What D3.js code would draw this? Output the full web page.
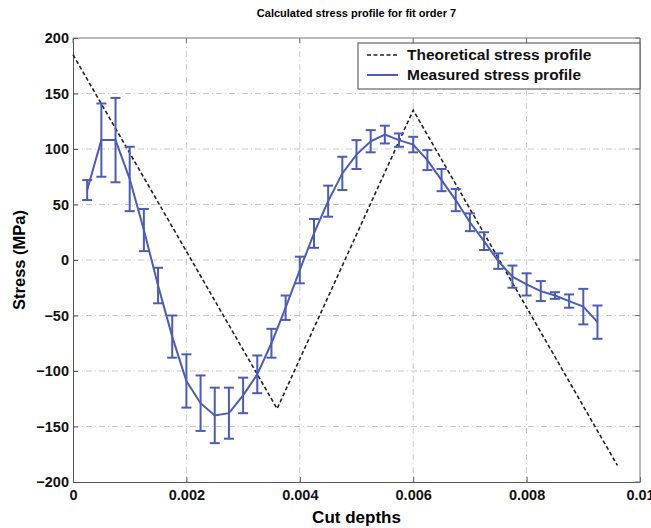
<!DOCTYPE html>
<meta charset="utf-8">
<style>
html,body{margin:0;background:#fff;}
text{font-family:"Liberation Sans",Arial,sans-serif;}
.grid line{stroke:#c8c8c8;stroke-width:1px;stroke-dasharray:6,3,1,3;}
.tick text{font-size:14.5px;font-weight:bold;fill:#111;}
</style>
<script src="https://d3js.org/d3.v7.min.js"></script>
<body>
<script>
// theoretical profile (piecewise linear)
var theoX = [0, 0.0036, 0.006, 0.0096];
var theoY = [185, -134, 135, -185];

// measured profile with error bars
var measX = [0.00025,0.0005,0.00075,0.001,0.00125,0.0015,0.00175,0.002,0.00225,0.0025,
             0.00275,0.003,0.00325,0.0035,0.00375,0.004,0.00425,0.0045,0.00475,0.005,
             0.00525,0.0055,0.00575,0.006,0.00625,0.0065,0.00675,0.007,0.00725,0.0075,
             0.00775,0.008,0.00825,0.0085,0.00875,0.009,0.00925];
var measY = [63,108,108,73,27,-23,-69,-109,-129,-140,
             -138,-122,-103,-75,-43,-9,24,53,78,95,
             107,113,108,104,90,72,54,34,17,-1,
             -15,-22,-28,-32,-37,-42,-56];
var measErr = [9,33,38,29,19,16,19,24,25,25,
               23,16,17,13,11,12,13,14,15,13,
               10,8,6,7,9,10,10,8,8,7,
               10,10,9,3,6,16,15];

var xTicks = [0, 0.002, 0.004, 0.006, 0.008, 0.01];
var xTickLabels = ["0", "0.002", "0.004", "0.006", "0.008", "0.01"];
var yTicks = [-200, -150, -100, -50, 0, 50, 100, 150, 200];
var legendLabels = ["Theoretical stress profile", "Measured stress profile"];

var width = 651, height = 528;
var margin = {left: 73, right: 11, top: 38, bottom: 46};
var blue = "#4a5cb8";

var svg = d3.select("body").append("svg")
    .attr("width", width)
    .attr("height", height);

var x = d3.scaleLinear().domain([0, 0.01]).range([margin.left, width - margin.right]);
var y = d3.scaleLinear().domain([-200, 200]).range([height - margin.bottom, margin.top]);

// grid
svg.append("g").attr("class", "grid")
  .selectAll("line").data(xTicks.slice(1, -1)).enter().append("line")
    .attr("x1", d => x(d)).attr("x2", d => x(d))
    .attr("y1", y(200)).attr("y2", y(-200));
svg.append("g").attr("class", "grid")
  .selectAll("line").data(yTicks.slice(1, -1)).enter().append("line")
    .attr("x1", x(0)).attr("x2", x(0.01))
    .attr("y1", d => y(d)).attr("y2", d => y(d));

// axes
svg.append("g")
    .attr("transform", "translate(0," + y(-200) + ")")
    .call(d3.axisBottom(x).tickValues(xTicks).tickSizeInner(-5).tickSizeOuter(0).tickPadding(8)
      .tickFormat((d, i) => xTickLabels[i]));
svg.append("g")
    .attr("transform", "translate(" + x(0) + ",0)")
    .call(d3.axisLeft(y).tickValues(yTicks).tickSizeInner(-5).tickSizeOuter(0).tickPadding(4));
svg.selectAll(".domain").attr("stroke", "#555");
svg.selectAll(".tick line").attr("stroke", "#555");

// top/right box
svg.append("line").attr("x1", x(0)).attr("x2", x(0.01)).attr("y1", y(200)).attr("y2", y(200)).attr("stroke", "#777");
svg.append("line").attr("x1", x(0.01)).attr("x2", x(0.01)).attr("y1", y(200)).attr("y2", y(-200)).attr("stroke", "#777");
svg.append("g").selectAll("line").data(xTicks).enter().append("line")
    .attr("x1", d => x(d)).attr("x2", d => x(d)).attr("y1", y(200)).attr("y2", y(200) + 5).attr("stroke", "#777");
svg.append("g").selectAll("line").data(yTicks).enter().append("line")
    .attr("x1", x(0.01)).attr("x2", x(0.01) - 5).attr("y1", d => y(d)).attr("y2", d => y(d)).attr("stroke", "#777");

// theoretical line
var theo = theoX.map((d, i) => [d, theoY[i]]);
svg.append("path")
    .datum(theo)
    .attr("fill", "none")
    .attr("stroke", "#222")
    .attr("stroke-width", 1.6)
    .attr("stroke-dasharray", "4,2.5")
    .attr("d", d3.line().x(d => x(d[0])).y(d => y(d[1])));

// measured line + error bars
var meas = measX.map((d, i) => ({x: d, y: measY[i], e: measErr[i]}));
svg.append("path")
    .datum(meas)
    .attr("fill", "none")
    .attr("stroke", blue)
    .attr("stroke-width", 2)
    .attr("d", d3.line().x(d => x(d.x)).y(d => y(d.y)));

var eb = svg.append("g").attr("stroke", blue).attr("stroke-width", 2)
  .selectAll("g").data(meas).enter().append("g");
eb.append("line")
    .attr("x1", d => x(d.x)).attr("x2", d => x(d.x))
    .attr("y1", d => y(d.y - d.e)).attr("y2", d => y(d.y + d.e));
eb.append("line")
    .attr("x1", d => x(d.x) - 5).attr("x2", d => x(d.x) + 5)
    .attr("y1", d => y(d.y + d.e)).attr("y2", d => y(d.y + d.e));
eb.append("line")
    .attr("x1", d => x(d.x) - 5).attr("x2", d => x(d.x) + 5)
    .attr("y1", d => y(d.y - d.e)).attr("y2", d => y(d.y - d.e));

// legend
var lg = svg.append("g").attr("transform", "translate(358,43)");
lg.append("rect").attr("width", 282).attr("height", 46)
    .attr("fill", "#fff").attr("stroke", "#444").attr("stroke-width", 1);
lg.append("line").attr("x1", 9).attr("x2", 40).attr("y1", 12).attr("y2", 12)
    .attr("stroke", "#222").attr("stroke-width", 1.6).attr("stroke-dasharray", "4,2.5");
lg.append("line").attr("x1", 9).attr("x2", 40).attr("y1", 32).attr("y2", 32)
    .attr("stroke", blue).attr("stroke-width", 2);
lg.selectAll("text").data(legendLabels).enter().append("text")
    .attr("x", 49).attr("y", (d, i) => 12 + i * 20).attr("dy", "0.35em")
    .attr("font-size", 15.5).attr("font-weight", "bold").attr("fill", "#111")
    .text(d => d);

// titles
svg.append("text").attr("x", (x(0) + x(0.01)) / 2).attr("y", 17)
    .attr("text-anchor", "middle").attr("font-size", 11).attr("font-weight", "bold")
    .text("Calculated stress profile for fit order 7");
svg.append("text").attr("x", (x(0) + x(0.01)) / 2).attr("y", 523)
    .attr("text-anchor", "middle").attr("font-size", 17).attr("font-weight", "bold")
    .text("Cut depths");
svg.append("text").attr("transform", "translate(25," + y(0) + ") rotate(-90)")
    .attr("text-anchor", "middle").attr("font-size", 16.5).attr("font-weight", "bold")
    .text("Stress (MPa)");
</script>
</body>
